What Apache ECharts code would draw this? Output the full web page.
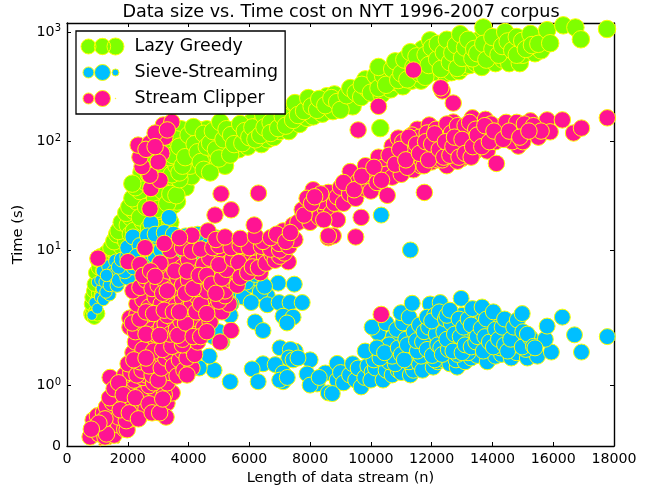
<!DOCTYPE html>
<html><head><meta charset="utf-8">
<script src="https://cdn.jsdelivr.net/npm/echarts@6/dist/echarts.min.js"></script>
<style>html,body{margin:0;padding:0;background:#fff}#c{width:662px;height:493px}</style>
</head><body><div id="c"></div>
<script>
const xTicks=[0,2000,4000,6000,8000,10000,12000,14000,16000,18000];
const yTicks=[0,1,10,100,1000];
const yStops=[0,0.603,1.96,3.043,4.14];

const lazyGreedy=[
[780,3.4],[800,3.3],[850,3.6],[800,4],[820,4.5],[880,5],[900,3.2],[950,3.5],[1000,3.4],[1000,4.2],[1050,4.8],[1100,5.5],[1000,6],[1100,6.5],[900,5.6],[950,6.8],[1050,7.4],[1150,4.6],[1200,5.2],[1300,6],[1200,7],[1300,7.8],[1400,6.8],[1200,8.2],[1400,9],[1000,8.5],[1100,9],[1300,9.5],[1500,8.2],[1500,10],[1600,11],[1650,9.2],[1450,10.5],[1700,12.5],[1800,10.8],[1550,12],[1800,13.5],[1650,14],[1950,12],[1900,16],[1700,15],[1800,18],[2000,17],[2100,14],[2100,20],[1950,22],[2200,23],[2050,25],[2300,28],[2150,30],[2400,35],[2250,38],[2500,45],[2600,42],[2450,52],[2700,50],[2550,60],[2800,38],[2900,45],[2650,65],[3000,55],[2800,70],[3100,48],[3200,60],[2950,80],[3300,40],[3500,38],[2200,15],[2500,18],[2800,20],[3200,22],[3500,26],[3620,28],[3900,38],[4100,48],[2150,41],
[2400,20],[2600,25],[2700,16],[2900,30],[3000,24],[3100,16],[3150,35],[3300,27],[3400,18],[3400,33],[3600,32],[3700,45],[3450,50],[3600,60],[3350,72],[3150,85],[3000,100],[3300,120],[3500,125],[3750,130],[3900,100],[3700,52],[4050,60],[4150,75],[4250,110],[4350,128],[4450,95],[4600,130],[4650,70],[4800,62],[4850,105],[4950,120],[5100,85],[5200,60],[5300,95],[5550,130],[5650,85],[5950,90],[6050,150],[6300,140],[6400,95],[6600,105],[6800,110],[6900,160],[7000,125],[7300,125],[7350,190],[7650,145],[7750,215],[7900,165],[8100,170],[8150,235],[8400,180],[8550,260],[8750,190],[8800,270],[9050,240],[9250,220],[9400,210],
[3100,110],[3300,95],[3500,75],[3600,105],[3700,90],[3800,60],[3890,72],[4000,115],[4160,136],[4200,95],[4300,80],[4400,65],[4500,118],[4500,55],[4600,90],[4710,97],[4710,52],[4800,125],[4900,85],[5040,151],[5000,70],[5150,105],[5250,130],[5370,76],[5400,115],[5500,95],[5700,145],[5770,97],[5850,125],[6000,110],[6100,135],[6200,105],[6360,115],[6460,175],[6500,135],[6700,150],[6700,120],[6950,133],[7100,170],[7200,140],[7440,158],[7500,225],[7600,175],[7800,190],[7940,250],[8050,210],[8230,195],[8300,245],[8500,215],[8700,250],[8890,230],[9000,195],[9200,265],[9320,308],[9500,280],[9680,255],[9820,370],[9900,300],[10100,340],
[9700,330],[10000,280],[10150,400],[10350,270],[10550,430],[10650,300],[10800,350],[10950,480],[11050,320],[11150,470],[11250,550],[11350,360],[11450,420],[11550,520],[11650,360],[11700,700],[11850,430],[11950,840],[12050,430],[12100,620],[12250,500],[12350,560],[12450,420],[12550,720],[12650,430],[12750,550],[12900,440],[13000,830],[13050,480],[13150,620],[13250,500],[13300,800],[13450,520],[13600,860],[13650,480],[13900,650],[14100,520],[14150,800],[14350,560],[14450,620],[14550,520],[14700,780],[14900,520],[15000,620],[15150,880],[15400,640],[15600,680],[15700,900],
[10250,308],[10310,133],[10400,400],[10250,480],[10500,330],[10700,460],[10900,365],[10800,540],[11000,420],[11100,560],[11200,370],[11300,655],[11400,480],[11500,600],[11600,420],[11790,390],[11800,620],[11900,500],[12000,720],[12180,565],[12200,780],[12300,460],[12400,650],[12500,850],[12600,530],[12680,645],[12840,470],[12800,760],[12940,955],[13000,580],[13100,720],[13200,850],[13340,575],[13400,700],[13500,640],[13700,1100],[13700,780],[13800,560],[14000,700],[14000,900],[14200,620],[14320,745],[14420,1000],[14500,820],[14650,680],[14800,900],[14800,620],[14980,830],[15100,700],[15250,960],[15300,760],[15510,780],[15800,1040],[15900,790],[16330,1150],[16730,1100],[16910,858],[17770,1065]
];

const sieveStreaming=[
[820,3.3],[890,4.1],[980,5.8],[1090,4.5],[1000,3.7],[1150,5.2],[1200,4.3],[1400,4.7],[1100,6],[1250,5.8],[1150,7],[1400,6.5],[1350,7.6],[1550,7],[1600,8.3],[1280,4.9],[1400,5.5],[1650,5.5],[1500,6.5],[1700,6],[1300,6.5],[2000,6.3],[1900,7],[1700,7.5],[2200,7.5],[2400,8],[1800,8.5],[2100,8.2],[2600,9],[2000,9],[2300,10],[2000,10.5],[2800,11],[3100,11],[3300,12],[3700,12],[4100,12],[4500,13],[4900,13],[3000,13],[2500,12.5],[2170,13.2],[2760,17.7],[3360,20],[2900,9],[3300,9],[3800,8],[4400,9],[5000,9],[5300,8],[5500,7],[5500,5],[5800,4.5],[5600,6],[6100,5.5],[5400,4],[5000,3.5],[6360,6],[6590,4.6],[6360,4.9],[6950,5.7],[7480,5.6],[6060,4.1],[6590,3.95],[6980,4.1],[7340,4.1],[7740,4.1],[7110,3.25],[7440,3.2],[7240,2.9],[6190,2.95],[6450,2.55],[5370,3.3],[5100,2.1],[4810,2.3],[5000,2.5],[2400,11],[2650,13.5],[2300,9],[2900,14],[3200,14.5],[3500,14],[3900,13.5],[4300,14],[3100,10],[3500,10],[5900,5.8],[6200,6.6],[6500,5.4],
[7010,1.9],[7510,1.8],[7350,1.85],[7300,1.6],[7440,1.55],[8000,1.55],[7600,1.6],[6450,1.45],[6090,1.33],[6290,1.07],[5370,1.07],[4840,1.3],[4680,1.65],[4350,1.35],[6850,1.43],[7110,1.24],[7110,1.07],[7000,1.1],[7250,1.15],[7900,1.22],[8230,1.03],[8000,1.01],[8500,1.24],[8600,.88],[8300,1.15],[8890,1.1],[8890,1.46],[8730,.87],[9000,1.25],[9100,1.05],[9300,1.2],[9400,1.45],[9500,1.1],[9580,1.35],[9680,.98],[9800,1.15],[9900,1.4],[10040,1.26],[10240,1.2],[10000,1.1],[10150,1.35],[10400,1.1],[10500,1.3],[10700,1.2],[10900,1.3],[11100,1.4],[11000,1.25],[11300,1.2],[11400,1.3],[11250,1.5],[11600,1.45],[11800,1.4],[11700,1.3],[12050,1.37],[12200,1.5],[12400,1.55],[12600,1.45],[12840,1.37],[12800,1.55],[13100,1.5],[13300,1.6],[13500,1.67],[13830,1.5],[14100,1.65],[14300,1.7],[14620,1.6],[14800,1.75],[15150,1.6],[15480,1.65],[15940,1.77],
[10350,2.1],[10100,1.55],[10600,1.5],[10800,1.45],[11000,2.1],[11300,1.75],[11450,2],[11650,1.65],[11550,2.4],[11800,2.3],[12000,2.1],[12100,1.55],[12200,2.7],[12350,2.2],[12500,2.6],[12600,2],[12750,2.1],[12850,1.7],[13000,2.45],[13000,3.3],[13200,1.75],[13200,2.4],[13400,3.2],[13600,2],[13550,3.1],[13900,2.8],[14200,3],[14250,1.9],[14600,2.6],[14750,2],[15100,1.85],[15300,2.1],
[9810,1.8],[10240,2.45],[10040,2.7],[10740,2.3],[10700,1.65],[10300,1.6],[10600,2],[10500,2.9],[10200,1.9],[10450,1.75],[10900,1.9],[10850,2.6],[11000,1.7],[11150,2.2],[11050,2.9],[11100,1.55],[10990,3.45],[11260,3.2],[11360,4.05],[11420,2.5],[11200,2],[11530,1.8],[11500,2.15],[11700,2.1],[11600,2.8],[11750,2.5],[11850,1.85],[11900,2.7],[11950,4],[11850,3.2],[12280,4.1],[12150,2.4],[12100,3.3],[12020,1.67],[12000,3],[12200,2],[12400,2.5],[12300,1.9],[12250,3.5],[12450,3.1],[12350,1.7],[12550,1.85],[12640,2.9],[12500,3.3],[12600,3.6],[12500,2.2],[12700,1.8],[12750,2.4],[12970,4.4],[12940,2.3],[12900,3.1],[13000,1.75],[13100,2],[13050,2.7],[13200,3.1],[13340,3.7],[13300,1.93],[13300,2.8],[13450,2.1],[13500,2.3],[13630,2.65],[13660,3.8],[13700,1.8],[13800,3.1],[13750,2.3],[13900,2.1],[14030,3.5],[14030,1.93],[14100,2.6],[14200,2.2],[14320,2.7],[14400,3.1],[14400,2],[14500,1.8],[14600,2.2],[14700,2.7],[14820,3.05],[14980,3.4],[14980,1.93],[15000,2.5],[15250,2.25],[15150,2.4],[15350,1.95],[15740,2.2],[15800,2.75],[16300,3.2],[16700,2.37],[16930,1.77],[17780,2.3],[11300,10],[10340,21],[15400,1.9]
];

const streamClipper=[
[1680,0.07],[1420,0.05],[1100,0.03],
[760,0.15],[860,0.43],[900,0.12],[950,0.3],[1050,0.2],[1100,0.08],[1150,0.38],[1250,0.15],[1280,0.33],[1350,0.5],[1400,0.25],[1500,0.4],[1550,0.18],[1600,0.62],[1650,0.56],[1700,0.35],[1750,0.75],[1850,0.5],[1900,0.28],[1980,0.27],[2000,0.65],[2050,0.85],[2100,0.45],[2170,0.82],[2250,0.62],[2300,0.95],[2400,0.5],[2500,0.65],[2550,0.9],[2650,0.75],[2730,0.56],[2800,0.85],[3000,0.72],[3290,0.71],[3260,0.48],[3460,0.88],[3100,0.95],[1800,0.95],[2000,1.02],[2200,1.1],[1420,1.15],
[1300,0.2],[1450,0.55],[1600,0.85],[1700,0.48],[1900,0.7],[1950,0.42],[2200,0.55],[2350,0.72],[2450,0.85],[2600,0.62],[2900,0.62],[2900,0.92],[3200,0.85],[2700,1],[2500,1.15],[2350,1.25],[2150,1.35],[1900,1.2],[2100,1.25],[2600,1.2],[3300,1.05],[3400,1.25],[2850,1.05],
[1000,0.5],[1200,0.55],[1300,0.65],[1500,0.72],[1400,0.8],[1550,0.95],[1700,1.05],[1850,0.85],[1750,0.6],[2050,0.55],[2250,0.8],[2350,0.45],[2700,0.7],[2800,0.55],[3050,0.55],[3150,0.78],[1250,0.45],[1050,0.38],[800,0.28],
[2010,1.45],[2170,1.75],[2300,1.2],[2470,1.3],[2630,1.7],[2800,1.2],[2960,1.55],[2400,1.5],[2700,1.4],[3000,1.1],[3100,1.35],[3250,1.6],[3390,1.75],[3500,1.4],[3620,1.18],[3700,1.55],[3850,1.3],[3800,1.8],[4110,1.35],[3950,1.2],[3600,2],[3300,2.1],[3000,2.05],[2700,2],[2400,2.05],[2250,2.1],[2500,1.85],[2850,1.8],[3150,1.85],[3450,1.95],[3950,1.6],[4050,1.95],[4200,1.7],[4300,2.1],[3800,2],[2200,1.55],[2600,1.6],
[2070,2.7],[2070,3.15],[2250,2.5],[2300,3.3],[2500,2.85],[2670,3.1],[2800,2.6],[2900,2.4],[3000,3.4],[3100,2.7],[3230,2.85],[3400,2.4],[3500,3.1],[3600,2.6],[3750,3],[3800,2.2],[4000,2.6],[4100,3.2],[4280,2.95],[4280,2.4],[4500,2.7],[4710,2.95],[5400,2.55],[5040,2.1],[2150,2.9],[2400,3.1],[2600,2.4],[3050,2.35],[3300,3.3],[3650,2.35],[3900,2.9],[4150,2.3],[4400,2.3],[4600,2.5],
[2300,4],[2500,4.3],[2700,3.8],[2900,4.5],[3100,4],[3390,4.2],[3600,3.9],[3800,4.4],[3950,3.7],[4100,4],[4300,4.5],[4500,3.6],[4680,4.3],[4900,3.7],[5100,3.5],[5330,4],[2600,3.5],[2850,3.4],[3200,3.6],[3500,3.5],[3700,3.5],[4250,3.5],[4400,4],[4600,3.4],[5000,4.2],[5200,4.6],
[2170,5],[2400,5.3],[2600,6],[2800,5.2],[3000,5.5],[3200,6],[3330,7],[3450,5.2],[3650,6.2],[3800,5.5],[4000,6],[4210,7.2],[4280,5.2],[4500,5.8],[4600,5],[4840,6.9],[5000,5.5],[5200,5],[5400,6],[5500,7],[5600,5.5],[3000,7.5],[3500,8],[3800,7.5],[4000,8.5],[4500,7.8],[4700,8.7],[5100,9.4],[5300,8],[5760,7.2],[5900,8.3],[6090,9.4],[6360,6.8],[6200,8],[6500,9],[1020,8.7],[2010,8.2],[2400,7.8],[3060,8],[7280,8.2],
[2500,6.5],[2750,7],[2900,6.4],[3150,4.8],[3300,5],[3550,7],[3900,4.8],[3950,7],[4150,5.2],[4350,6.5],[4600,6.5],[4750,5.6],[4900,4.8],[5100,6.2],[5250,7.2],[5000,7.8],[5450,8.6],[5650,8.1],[5700,6.3],[5950,6.8],[6100,7.5],[6300,7.4],[6550,8],[6750,9.2],[6850,8.4],[7000,9],[7150,9.5],
[2570,10.3],[3390,10],[3800,10.5],[4100,9.8],[4400,10.2],[4800,10.5],[5000,11],[5400,10.5],[5700,11],[6000,10.5],[6400,10.8],[6700,10.2],[7000,10],[6980,11.5],[7300,10.8],[2570,10.5],[3200,11.5],[4110,13.7],[3700,13],[4640,15],[4900,12.5],[5200,13.2],[5700,12.8],[6450,12],[6200,13.5],[6700,13],[7110,15],[6900,14],[7440,17],[7500,12.5],[7740,23.5],[7600,18],[8100,36],[7900,30],[8230,25],[8000,18],[8300,20],[8500,24],[8600,34],[8600,13],[8760,13.5],[8400,28],[8700,22],[8900,19],
[7200,12],[7350,14.5],[7800,21],[8050,27],[8350,33],[8450,19],[8800,27],[8150,31],
[4870,21],[5400,23.5],[5070,33],[6300,33.5],[6160,17],
[2730,24],[2760,37],[3060,44],[2730,49],[2470,59],[2400,72],[3120,78],[2340,93],[2730,97],[3220,110],[3170,142],[3450,151],[2600,85],[2900,120],[3000,65],[2900,90],[3300,128],
[8890,31],[9000,38],[9100,27],[9320,53],[9300,33],[9580,43],[9500,30],[9680,20],[9820,60],[9800,37],[10040,47],[10000,35],[10200,42],[10250,72],[10400,58],[10540,32],[10500,50],[10700,91],[10700,47],[10900,108],[10900,63],[11000,50],[11100,80],[11290,72],[11300,95],[11400,55],[11500,70],[11530,130],[11650,60],[11760,34],[11700,95],[11800,75],[11920,142],[12000,65],[12050,110],[12180,97],[12200,68],[12350,85],[12450,125],[12500,60],[12600,100],[12710,151],[12750,75],[12900,90],[12940,125],[13000,70],[13150,105],[13340,115],[13340,165],[13400,80],[13600,130],[13770,160],[13830,82],[14000,110],[14130,63],[14200,135],[14360,142],[14500,105],[14700,125],[14850,91],[14980,127],[15100,115],[15250,155],[15400,120],[15510,110],[15800,158],[15900,123],[16300,158],[16670,120],[16930,133],[17780,165],
[9100,42],[9450,36],[9700,48],[10100,58],[10350,44],[10600,75],[10800,62],[11050,100],[11200,58],[11350,115],[11450,82],[11600,110],[11750,60],[11850,120],[11950,85],[12100,75],[12150,130],[12300,105],[12350,68],[12500,145],[12550,82],[12650,120],[12800,95],[12850,140],[12850,66],[13050,85],[13100,140],[13250,95],[13250,150],[13450,130],[13550,100],[13700,120],[13950,145],[14100,100],[14250,120],[14450,150],[14650,100],[14800,150],[15000,100],[15050,145],[15350,140],[15600,125],
[10950,85],[11150,68],[11250,110],[11500,95],[11600,78],[11800,100],[11900,68],[12000,95],[12100,118],[12250,85],[12400,72],[12450,100],[12600,75],[12700,90],[12750,110],[12900,72],[13000,105],[13100,78],[13300,72],[13350,90],[13500,115],[13650,90],[13750,140],[13900,100],[14050,125],[14350,105],[14550,125],[14900,110],[15200,125],
[9580,128],[10250,210],[11400,450],[12350,290],[12300,310],[12710,225],[8600,13.5],[10340,3.35],[9500,13.2]
];

function yPos(v){
  if(v<=1) return v*yStops[1];
  const d=Math.min(Math.floor(Math.log10(v)),2);
  return yStops[d+1]+(Math.log10(v)-d)*(yStops[d+2]-yStops[d+1]);
}
const toPlot=a=>a.map(p=>[p[0],yPos(p[1])]);
const circle=(cx,cy,r)=>`M${cx-r} ${cy}a${r} ${r} 0 1 0 ${2*r} 0a${r} ${r} 0 1 0 ${-2*r} 0z`;
const iconOf=rs=>'path://M0 0L0 0.01'+circle(8,10,rs[0])+circle(22,10,rs[1])+circle(35,10,rs[2])+'M46 20L46 20.01';

function mk(name,data,color,size){
  return {name,type:'scatter',data:toPlot(data),symbolSize:size,
    itemStyle:{color,borderColor:'#ffff00',borderWidth:1,opacity:1},
    emphasis:{disabled:true},silent:true,animation:false,progressive:0,large:false,clip:false};
}
const font='"DejaVu Sans"';
const axisBase={axisLine:{show:true,onZero:false,lineStyle:{color:'#000',width:1.4}},
  axisTick:{show:true,inside:true,length:4,lineStyle:{color:'#000',width:1}},splitLine:{show:false}};
const yCustom=yTicks.map(yPos);
const chart=echarts.init(document.getElementById('c'),null,{renderer:'canvas'});
chart.setOption({
  animation:false,backgroundColor:'#fff',textStyle:{fontFamily:font},
  title:{text:'Data size vs. Time cost on NYT 1996-2007 corpus',left:336,textAlign:'center',top:-2,
    textStyle:{fontFamily:font,fontWeight:'normal',fontSize:17.6,color:'#000'}},
  grid:{left:67,right:48,top:23,bottom:47,containLabel:false},
  legend:{left:76,top:31,orient:'vertical',itemWidth:46,itemHeight:20,itemGap:5,
    padding:[5,7,5,4],backgroundColor:'#fff',borderColor:'#000',borderWidth:1.3,borderRadius:0,
    selectedMode:false,z:20,align:'left',
    textStyle:{fontFamily:font,fontSize:17.4,color:'#000',padding:[0,0,0,3]},
    data:[
      {name:'Lazy Greedy',icon:iconOf([7.5,8.2,8.5])},
      {name:'Sieve-Streaming',icon:iconOf([5.5,8,3.5])},
      {name:'Stream Clipper',icon:iconOf([5.5,8,0.3])}
    ],
    itemStyle:{borderColor:'#ffff00',borderWidth:1}},
  xAxis:[
    Object.assign({type:'value',min:0,max:18000,interval:2000,position:'bottom',
      name:'Length of data stream (n)',nameLocation:'middle',nameGap:25,
      nameTextStyle:{fontFamily:font,fontSize:14.6,color:'#000'},
      axisLabel:{fontFamily:font,fontSize:14.2,color:'#000',margin:6,showMinLabel:true,showMaxLabel:true,hideOverlap:false,formatter:v=>String(v)}},axisBase),
    Object.assign({type:'value',min:0,max:18000,interval:2000,position:'top',axisLabel:{show:false}},axisBase)
  ],
  yAxis:[
    Object.assign({},axisBase,{type:'value',min:0,max:4.23,position:'left',
      name:'Time (s)',nameLocation:'middle',nameGap:38,nameRotate:90,
      nameTextStyle:{fontFamily:font,fontSize:14.6,color:'#000'},
      axisTick:Object.assign({},axisBase.axisTick,{customValues:yCustom}),
      axisLabel:{customValues:yCustom,margin:6,fontFamily:font,fontSize:14.2,color:'#000',hideOverlap:false,
        formatter:v=>{const i=yCustom.findIndex(c=>Math.abs(c-v)<1e-6);
          return i<=0?'0':`{b|10}{s|${i-1}}`;},
        rich:{b:{fontFamily:font,fontSize:14.2,color:'#000'},s:{fontFamily:font,fontSize:10,color:'#000',padding:[0,0,7,0]}}}}),
    Object.assign({},axisBase,{type:'value',min:0,max:4.23,position:'right',
      axisTick:Object.assign({},axisBase.axisTick,{customValues:yCustom}),axisLabel:{show:false}})
  ],
  series:[
    mk('Lazy Greedy',lazyGreedy,'#7FFF00',(v)=>Math.min(17.5,11+v[0]*0.004)),
    mk('Sieve-Streaming',sieveStreaming,'#00BFFF',(v)=>Math.min(16,6+v[0]*0.005)),
    mk('Stream Clipper',streamClipper,'#FF1493',(v)=>v[1]<0.08?3:16.5)
  ]
});
</script></body></html>
